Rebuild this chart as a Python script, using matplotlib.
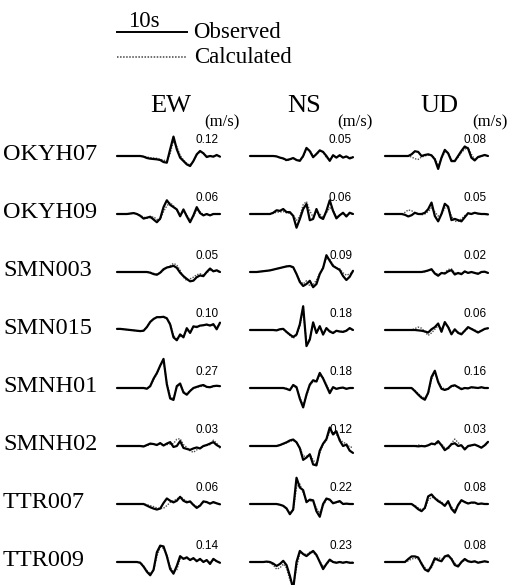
import numpy as np
import matplotlib
matplotlib.use("Agg")
import matplotlib.pyplot as plt

# ---------------- data ----------------
stations = ["OKYH07", "OKYH09", "SMN003", "SMN015", "SMNH01", "SMNH02", "TTR007", "TTR009"]
components = ["EW", "NS", "UD"]
peak_EW = [0.12, 0.06, 0.05, 0.10, 0.27, 0.03, 0.06, 0.14]
peak_NS = [0.05, 0.06, 0.09, 0.18, 0.18, 0.12, 0.22, 0.23]
peak_UD = [0.08, 0.05, 0.02, 0.06, 0.16, 0.03, 0.08, 0.08]

# relative waveform amplitudes (arbitrary units)
okyh07_ew_obs = [0,0,0,0,0,0,0,0,-2,-6,-8,-9,-10,-12,-18,-20,20,58,20,-5,-15,-25,-30,-15,5,15,8,-3,0,-2,3,-2]
okyh07_ew_cal = [0,0,0,0,0,0,0,0,-1,-3,-5,-6,-7,-10,-12,-16,8,45,28,2,-12,-22,-27,-15,3,13,9,-1,0,-1,2,-1]
okyh07_ns_obs = [0,0,0,0,0,0,0,0,-1,-4,-6,-10,-8,-5,-10,-12,0,20,12,-3,5,14,10,0,-12,2,-4,2,-4,-1,-6,-3]
okyh07_ns_cal = [0,0,0,0,0,0,0,0,-1,-3,-7,-12,-9,-6,-9,-11,-2,17,14,0,4,12,11,-5,-8,0,-3,0,-3,-2,-4,-2]
okyh07_ud_obs = [0,0,0,0,0,0,0,0,5,14,12,0,3,5,2,-10,-38,-5,18,8,-15,-15,0,15,28,22,-5,-13,-3,0,3,0]
okyh07_ud_cal = [0,0,0,0,0,0,0,0,-3,-8,-10,-3,0,3,1,-6,-28,-8,12,10,-10,-14,-4,10,20,25,5,-10,-5,-1,2,0]

okyh09_ew_obs = [0,0,0,0,1,2,0,-4,-10,-8,-6,-12,-18,-10,15,30,20,15,10,-5,10,-5,-18,-3,15,2,-3,0,-3,0,0,0]
okyh09_ew_cal = [0,0,0,0,1,2,0,-3,-7,-9,-8,-6,-12,-12,5,18,25,18,8,-2,6,-2,-14,-6,10,5,-2,-1,-2,0,0,0]
okyh09_ns_obs = [0,0,0,0,0,0,0,2,6,5,8,3,3,-3,-22,-8,8,16,-10,-8,8,-5,-8,5,22,5,-7,-2,2,-4,2,0]
okyh09_ns_cal = [0,0,0,0,0,0,0,1,3,3,4,2,1,-2,-10,-4,15,20,5,-5,4,0,-6,2,10,6,-4,-2,1,-2,1,0]
okyh09_ud_obs = [0,0,0,0,0,0,-2,-6,-3,3,0,0,3,12,28,-5,-18,0,25,18,-15,-12,-15,-18,-8,2,0,3,1,0,0,-1]
okyh09_ud_cal = [0,0,0,0,0,0,4,10,8,3,0,-2,0,6,15,5,-5,-2,15,15,-5,-18,-18,-12,-4,0,1,2,1,0,0,0]

smn003_ew_obs = [0,0,0,0,0,0,0,0,0,0,-2,-6,-8,-2,8,13,15,18,12,-2,-12,-20,-27,-25,-15,-10,-12,0,10,2,5,0]
smn003_ew_cal = [0,0,0,0,0,0,0,0,0,0,-1,-4,-6,-3,5,12,18,25,20,5,-15,-25,-20,-15,-8,-5,-8,-2,5,3,2,0]
smn003_ns_obs = [0,0,0,1,2,3,4,6,8,10,12,14,15,12,-5,-25,-35,-30,-22,-38,-30,-5,10,42,28,15,10,5,-10,-20,-12,3]
smn003_ns_cal = [0,0,0,1,2,3,4,6,8,10,12,14,14,10,-5,-22,-30,-22,-35,-32,-20,-3,12,35,32,18,10,8,-2,-8,-5,0]
smn003_ud_obs = [0,0,0,0,0,0,0,0,0,0,0,0,2,5,9,-5,-12,-3,-5,2,6,-8,-3,-7,2,-3,0,-3,-6,0,1,-3]
smn003_ud_cal = [0,0,0,0,0,0,0,0,0,0,0,0,1,4,7,-2,-8,-4,-2,8,10,-3,-5,-4,0,-2,-1,-2,-4,-1,0,-2]

smn015_ew_obs = [3,3,2,1,0,-1,-2,-3,-2,8,22,30,35,35,36,32,15,-20,-28,-12,-20,5,-8,10,8,12,13,15,12,16,2,20]
smn015_ew_cal = [3,3,2,1,0,-1,-2,-3,-1,9,22,31,35,36,35,30,18,-15,-25,-18,-15,0,-5,8,10,10,14,13,14,12,8,15]
smn015_ns_obs = [0,0,0,0,0,0,0,0,-1,2,3,-5,-12,-18,-12,15,62,-42,-25,20,-8,10,-12,5,-4,-8,-2,-4,-5,-2,5,0]
smn015_ns_cal = [0,0,0,0,0,0,0,0,-1,1,2,-6,-14,-22,-14,10,55,-35,-22,16,-5,8,-9,4,-2,-6,-3,-3,-4,-1,3,0]
smn015_ud_obs = [0,0,0,0,0,0,0,0,0,0,-1,-2,-4,-7,2,8,18,-5,22,8,-12,2,-8,-12,-2,8,3,-2,-7,-2,3,5]
smn015_ud_cal = [0,0,0,0,0,0,0,0,0,4,8,5,-5,-15,-8,2,12,5,15,10,-8,0,-6,-10,-3,5,4,0,-5,-3,2,4]

smnh01_ew_obs = [0,0,0,0,0,0,0,0,0,-2,5,25,40,60,78,10,-28,-32,5,12,-12,-18,-8,0,3,6,8,3,2,5,6,5]
smnh01_ew_cal = [0,0,0,0,0,0,0,0,0,-1,4,22,38,58,72,14,-22,-30,2,10,-10,-15,-7,-1,2,4,5,3,2,4,5,4]
smnh01_ns_obs = [0,0,0,0,0,0,0,0,0,0,0,-2,-5,7,2,-25,-45,-15,8,18,15,35,22,5,-12,2,-2,0,1,-2,0,0]
smnh01_ns_cal = [0,0,0,0,0,0,0,0,0,0,0,-1,-4,5,0,-22,-40,-18,5,15,14,30,24,8,-8,0,-2,0,0,-1,0,0]
smnh01_ud_obs = [0,0,0,0,0,0,0,0,0,-8,-17,-25,-30,-12,28,44,15,-2,-5,-2,5,7,2,-3,0,-1,2,1,0,2,0,0]
smnh01_ud_cal = [0,0,0,0,0,0,0,0,0,-6,-14,-22,-25,-14,22,40,18,2,-3,-3,3,5,3,-1,0,0,1,1,0,1,0,0]

smnh02_ew_obs = [0,0,0,0,0,0,0,0,-1,2,5,4,2,6,1,5,8,-2,0,10,-4,-6,-8,-5,-3,-5,0,2,5,8,2,-2]
smnh02_ew_cal = [0,0,0,0,0,0,0,0,0,1,3,4,3,4,2,3,4,5,14,15,3,-3,-10,-13,-8,-4,-1,1,3,12,6,-5]
smnh02_ns_obs = [0,0,0,0,0,0,0,0,0,2,5,8,12,14,8,-5,-30,-25,-18,-40,-42,-10,5,15,40,25,32,12,0,3,-10,-15]
smnh02_ns_cal = [0,0,0,0,0,0,0,0,0,2,4,7,10,12,8,-3,-22,-22,-18,-30,-40,-15,3,12,30,28,25,15,8,5,-2,-3]
smnh02_ud_obs = [0,0,0,0,0,0,0,0,0,0,-1,0,-1,2,7,5,14,2,-12,-5,5,8,0,2,-10,0,2,4,0,-5,2,12]
smnh02_ud_cal = [0,0,0,0,0,0,0,0,0,0,3,1,0,2,5,4,8,6,-5,-10,8,20,10,0,-6,-2,1,3,1,-3,1,8]

ttr007_ew_obs = [0,0,0,0,0,0,0,0,0,-5,-10,-14,-17,-14,3,17,10,5,10,22,10,5,8,-3,-12,-5,8,6,1,6,2,-1]
ttr007_ew_cal = [0,0,0,0,0,0,0,0,0,-2,-5,-8,-12,-14,-13,-5,5,10,15,23,15,8,5,-2,-8,-4,5,5,2,4,2,0]
ttr007_ns_obs = [0,0,0,0,0,0,0,0,0,-2,-5,-12,-28,-15,72,45,38,5,12,10,-20,-35,0,15,12,2,5,8,0,1,0,0]
ttr007_ns_cal = [0,0,0,0,0,0,0,0,0,-2,-6,-14,-25,-18,45,55,30,10,8,8,-12,-25,-5,12,12,4,4,6,1,1,0,0]
ttr007_ud_obs = [0,0,0,0,0,0,0,0,0,-5,-11,-15,-8,16,20,12,6,2,-4,6,-10,-18,-2,8,4,1,3,3,0,1,0,0]
ttr007_ud_cal = [0,0,0,0,0,0,0,0,0,-3,-8,-12,-10,8,14,13,9,4,-2,3,-6,-14,-4,6,5,2,2,2,0,1,0,0]

ttr009_ew_obs = [0,0,0,0,0,0,0,-2,-12,-25,-34,-20,25,42,40,15,-18,-30,-10,15,8,12,5,10,2,8,0,5,-5,8,2,-2]
ttr009_ew_cal = [0,0,0,0,0,0,0,-1,-10,-22,-30,-22,15,38,35,18,-12,-25,-20,8,10,8,6,8,4,6,1,4,-2,5,2,-1]
ttr009_ns_obs = [0,0,0,0,0,1,0,-4,-10,-5,3,-8,-35,-68,0,28,20,15,22,28,18,0,-18,-5,6,0,-2,0,-2,0,-2,-2]
ttr009_ns_cal = [0,0,0,0,0,0,-2,-8,-18,-15,-5,-15,-45,-60,-15,22,22,18,25,24,15,2,-12,-6,3,0,-1,0,-1,0,-1,-1]
ttr009_ud_obs = [0,0,0,0,0,0,0,8,15,15,12,-5,-20,-25,-10,10,5,2,15,18,8,-8,-12,0,8,2,0,2,-2,0,2,0]
ttr009_ud_cal = [0,0,0,0,0,0,0,3,8,10,8,-2,-15,-22,-15,5,12,8,12,15,10,-3,-10,-2,5,2,0,1,-1,0,1,0]

observed = {
    "OKYH07": [okyh07_ew_obs, okyh07_ns_obs, okyh07_ud_obs],
    "OKYH09": [okyh09_ew_obs, okyh09_ns_obs, okyh09_ud_obs],
    "SMN003": [smn003_ew_obs, smn003_ns_obs, smn003_ud_obs],
    "SMN015": [smn015_ew_obs, smn015_ns_obs, smn015_ud_obs],
    "SMNH01": [smnh01_ew_obs, smnh01_ns_obs, smnh01_ud_obs],
    "SMNH02": [smnh02_ew_obs, smnh02_ns_obs, smnh02_ud_obs],
    "TTR007": [ttr007_ew_obs, ttr007_ns_obs, ttr007_ud_obs],
    "TTR009": [ttr009_ew_obs, ttr009_ns_obs, ttr009_ud_obs],
}
calculated = {
    "OKYH07": [okyh07_ew_cal, okyh07_ns_cal, okyh07_ud_cal],
    "OKYH09": [okyh09_ew_cal, okyh09_ns_cal, okyh09_ud_cal],
    "SMN003": [smn003_ew_cal, smn003_ns_cal, smn003_ud_cal],
    "SMN015": [smn015_ew_cal, smn015_ns_cal, smn015_ud_cal],
    "SMNH01": [smnh01_ew_cal, smnh01_ns_cal, smnh01_ud_cal],
    "SMNH02": [smnh02_ew_cal, smnh02_ns_cal, smnh02_ud_cal],
    "TTR007": [ttr007_ew_cal, ttr007_ns_cal, ttr007_ud_cal],
    "TTR009": [ttr009_ew_cal, ttr009_ns_cal, ttr009_ud_cal],
}
peaks = [peak_EW, peak_NS, peak_UD]

# ---------------- layout ----------------
W, H = 516, 585
fig = plt.figure(figsize=(W / 100, H / 100), dpi=100)
ax = fig.add_axes([0, 0, 1, 1])
ax.set_xlim(0, W)
ax.set_ylim(H, 0)
ax.axis("off")

serif = ["Liberation Serif", "DejaVu Serif"]
sans = ["Liberation Sans", "DejaVu Sans"]

col_x0 = [117, 250, 385]
trace_w = 103
row_y0, row_dy = 156, 58.0
gain = 56.0

# legend
ax.plot([117, 187], [32, 32], color="black", lw=1.4)
ax.text(144, 27, "10s", family=serif, fontsize=16.5, ha="center", va="baseline")
ax.text(193, 38, "Observed", family=serif, fontsize=16.5, ha="left", va="baseline")
ax.plot([117, 187], [57, 57], color="#444444", lw=1.1, linestyle=(0, (1, 1)))
ax.text(194, 63, "Calculated", family=serif, fontsize=16.5, ha="left", va="baseline")

# column headers
for c, comp in enumerate(components):
    ax.text(col_x0[c] + 54, 112, comp, family=serif, fontsize=19, ha="center", va="baseline")
    ax.text(col_x0[c] + 87, 126, "(m/s)", family=serif, fontsize=12, ha="left", va="baseline")

for r, st in enumerate(stations):
    base = row_y0 + r * row_dy
    ax.text(3, base - 2, st, family=serif, fontsize=17.5, ha="left", va="center")
    smax = max(peak_EW[r], peak_NS[r], peak_UD[r])
    for c in range(3):
        obs = np.array(observed[st][c], dtype=float)
        cal = np.array(calculated[st][c], dtype=float)
        norm = np.abs(obs).max()
        amp = gain * np.sqrt(smax) * peaks[c][r] / smax
        t = np.linspace(col_x0[c], col_x0[c] + trace_w, len(obs))
        ax.plot(t, base - cal / norm * amp, color="#505050", lw=1.0,
                linestyle=(0, (1, 1)), zorder=2)
        ax.plot(t, base - obs / norm * amp, color="black", lw=1.6, zorder=3,
                solid_joinstyle="round", solid_capstyle="round")
        ax.text(col_x0[c] + trace_w - 1, base - 16, f"{peaks[c][r]:.2f}", family=sans,
                fontsize=8.5, ha="right", va="center")

fig.savefig("out.png", dpi=100)
